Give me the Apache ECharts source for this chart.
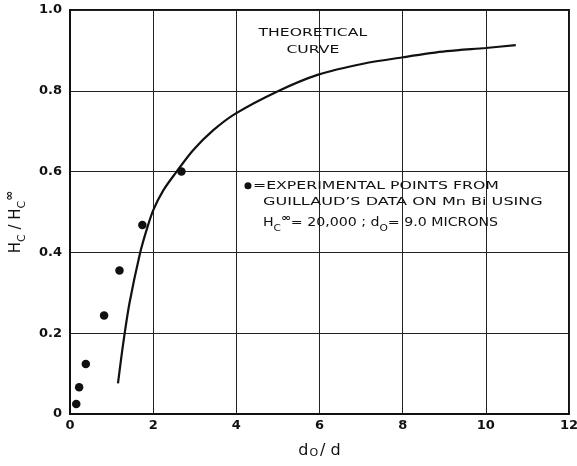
<!DOCTYPE html>
<html>
<head>
<meta charset="utf-8">
<script src="https://cdn.jsdelivr.net/npm/echarts@6/dist/echarts.min.js"></script>
<style>html,body{margin:0;padding:0;background:#fff}#c{width:577px;height:466px}</style>
</head>
<body>
<div id="c"></div>
<script>
// Theoretical curve (d0/d, Hc/Hc_inf)
const curveX = [1.154, 1.28, 1.43, 1.68, 1.84, 2.0, 2.24, 2.55, 2.96, 3.44, 3.97, 5.0, 5.97, 7.05, 8.01, 9.05, 10.0, 10.72];
const curveY = [0.076, 0.175, 0.274, 0.396, 0.455, 0.504, 0.553, 0.598, 0.653, 0.702, 0.743, 0.799, 0.84, 0.867, 0.883, 0.898, 0.906, 0.913];
// Experimental points
const pointsX = [0.15, 0.22, 0.38, 0.82, 1.19, 1.74, 2.68];
const pointsY = [0.025, 0.066, 0.124, 0.244, 0.355, 0.468, 0.6];
// Axis ticks
const xTicks = [0, 2, 4, 6, 8, 10, 12];
const yTicks = [0, 0.2, 0.4, 0.6, 0.8, 1.0];

const FONT = 'DejaVu Sans';
const chart = echarts.init(document.getElementById('c'), null, {renderer: 'canvas'});

const option = {
  backgroundColor: '#fff',
  animation: false,
  grid: {left: 70, right: 8, top: 10, bottom: 52, outerBoundsMode: 'none', containLabel: false,
    show: true, borderColor: '#111', borderWidth: 2, backgroundColor: 'transparent'},
  xAxis: {
    type: 'value', min: xTicks[0], max: xTicks[xTicks.length - 1], interval: 2,
    axisLine: {show: true, lineStyle: {color: '#111', width: 2}},
    axisTick: {show: false},
    splitLine: {show: true, lineStyle: {color: '#222', width: 1}},
    axisLabel: {color: '#111', fontFamily: FONT, fontSize: 13, fontWeight: 'bold', margin: 5},
    name: '{n|d}{s|O}{n|/ d}',
    nameLocation: 'middle', nameGap: 23,
    nameTextStyle: {
      fontFamily: FONT,
      rich: {
        n: {fontSize: 16, color: '#111', fontFamily: FONT, lineHeight: 22, verticalAlign: 'bottom'},
        s: {fontSize: 11, color: '#111', fontFamily: FONT, lineHeight: 22, verticalAlign: 'bottom', padding: [0, 2, 0, 1]}
      }
    }
  },
  yAxis: {
    type: 'value', min: yTicks[0], max: yTicks[yTicks.length - 1], interval: 0.2,
    axisLine: {show: true, lineStyle: {color: '#111', width: 2}},
    axisTick: {show: false},
    splitLine: {show: true, lineStyle: {color: '#222', width: 1}},
    axisLabel: {color: '#111', fontFamily: FONT, fontSize: 13, fontWeight: 'bold', margin: 8,
      formatter: v => v === 0 ? '0' : v.toFixed(1)},
    name: '{n|H}{s|C}{n| / H}{s|C}{p|∞}',
    nameLocation: 'middle', nameGap: 41, nameRotate: 90,
    nameTextStyle: {
      fontFamily: FONT,
      padding: [0, 20, 0, 0],
      rich: {
        n: {fontSize: 15, color: '#111', fontFamily: FONT, lineHeight: 24, verticalAlign: 'middle'},
        s: {fontSize: 11, color: '#111', fontFamily: FONT, lineHeight: 24, verticalAlign: 'bottom'},
        p: {fontSize: 12, color: '#111', fontFamily: FONT, lineHeight: 24, verticalAlign: 'top', fontWeight: 'bold'}
      }
    }
  },
  series: [
    {
      type: 'line', data: curveX.map((x, i) => [x, curveY[i]]),
      smooth: 0.3, showSymbol: false,
      lineStyle: {color: '#111', width: 2.2}, z: 3
    },
    {
      type: 'scatter', data: pointsX.map((x, i) => [x, pointsY[i]]),
      symbol: 'circle', symbolSize: 8.5, itemStyle: {color: '#111', opacity: 1}, z: 4
    }
  ]
};
chart.setOption(option);

function px(x, y) { return chart.convertToPixel({gridIndex: 0}, [x, y]); }
const t1 = px(5.84, 0.942), t2 = px(5.84, 0.9);
const l1 = px(4.4, 0.565), l2 = px(4.64, 0.524), l3 = px(4.64, 0.472);
const base = {fill: '#111', font: '11px "' + FONT + '"', verticalAlign: 'middle'};
chart.setOption({
  graphic: [
    {type: 'text', x: t1[0], y: t1[1], scaleX: 1.42, style: Object.assign({text: 'THEORETICAL', align: 'center'}, base)},
    {type: 'text', x: t2[0], y: t2[1], scaleX: 1.42, style: Object.assign({text: 'CURVE', align: 'center'}, base)},
    {type: 'circle', shape: {cx: l1[0] - 5, cy: l1[1], r: 3.5}, style: {fill: '#111'}},
    {type: 'text', x: l1[0], y: l1[1], scaleX: 1.43, style: Object.assign({text: '=EXPERIMENTAL POINTS FROM'}, base)},
    {type: 'text', x: l2[0], y: l2[1], scaleX: 1.46, style: Object.assign({text: 'GUILLAUD\u2019S DATA ON Mn Bi USING'}, base)},
    {type: 'text', x: l3[0], y: l3[1], scaleX: 1.18, style: {
      text: '{n|H}{s|C}{p|∞}{n|= 20,000 ; d}{s|O}{n|= 9.0 MICRONS}',
      verticalAlign: 'middle', fill: '#111', font: '11px "' + FONT + '"',
      rich: {
        n: {fontSize: 12, fontFamily: FONT, fill: '#111', lineHeight: 20, verticalAlign: 'middle'},
        s: {fontSize: 9, fontFamily: FONT, fill: '#111', lineHeight: 20, verticalAlign: 'bottom'},
        p: {fontSize: 10, fontFamily: FONT, fill: '#111', lineHeight: 20, verticalAlign: 'top', fontWeight: 'bold'}
      }
    }}
  ]
});
</script>
</body>
</html>
